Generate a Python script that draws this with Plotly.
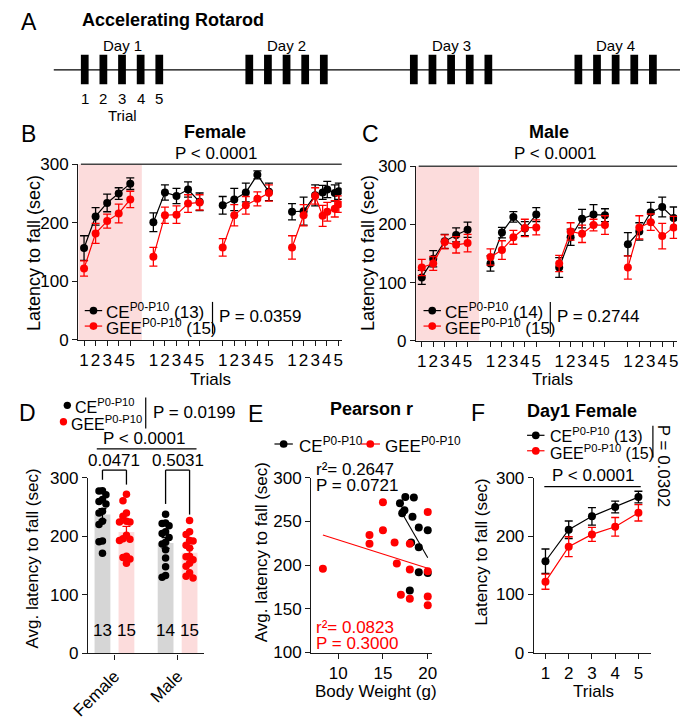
import numpy as np
import plotly.graph_objects as go

W, H = 685, 720
FONT = "Liberation Sans, Arial, Helvetica, sans-serif"
BLACK = "#000000"
RED = "#ff0000"
PINK = "#fcdcdc"
GRAY = "#d6d6d6"
AX = "#1a1a1a"

# ---------------- data ----------------
# Panel A schedule
days = [1, 2, 3, 4]
trials = [1, 2, 3, 4, 5]
trial_labels = ["1", "2", "3", "4", "5"]

# Panel B: female, latency per day/trial (day 4 shows doubled points near trials 4 and 5)
fem_trials = [[1, 2, 3, 4, 5], [1, 2, 3, 4, 5], [1, 2, 3, 4, 5],
              [1, 2, 3, 3.65, 4.05, 4.7, 5.05]]
fem_ce = [[157, 211, 234, 250, 267], [201, 252, 246, 257, 236],
          [230, 240, 252, 282, 253], [219, 220, 247, 252, 257, 251, 254]]
fem_ce_sem = [[21, 15, 15, 10, 10], [16, 13, 13, 13, 15],
              [15, 19, 16, 7, 15], [14, 24, 18, 12, 14, 14, 14]]
fem_gee = [[122, 182, 203, 216, 240], [142, 213, 214, 233, 235],
           [158, 213, 230, 241, 251], [158, 213, 246, 212, 219, 224, 232]]
fem_gee_sem = [[13, 17, 12, 16, 14], [16, 14, 15, 15, 13],
               [15, 18, 15, 12, 14], [20, 18, 14, 18, 16, 14, 14]]

# Panel C: male
male_trials = [[1, 2, 3, 4, 5], [1, 2, 3, 4, 5], [1, 2, 3, 4, 5], [1, 2, 3, 4, 5]]
male_ce = [[109, 141, 171, 182, 191], [133, 186, 213, 193, 217],
           [126, 178, 210, 217, 216], [166, 188, 221, 230, 211]]
male_ce_sem = [[12, 14, 12, 12, 13], [13, 9, 9, 12, 12],
               [17, 14, 16, 17, 11], [20, 15, 17, 17, 19]]
male_gee = [[126, 133, 170, 165, 168], [144, 156, 178, 194, 195],
            [133, 188, 184, 199, 199], [126, 195, 204, 180, 195]]
male_gee_sem = [[14, 12, 12, 14, 15], [14, 16, 12, 15, 13],
                [14, 15, 15, 10, 16], [20, 20, 14, 22, 19]]

# Panel E (female): body weight vs average latency
ce_weight = [16.9, 17.5, 18.45, 17.4, 17.15, 18.3, 19.0, 20.0, 18.15, 19.0, 19.0, 20.0, 18.0]
ce_avg = [271, 278, 277.5, 263, 259.5, 255.5, 243, 240, 226, 220.5, 192, 191, 171]
gee_weight = [8.3, 13.5, 13.5, 15.0, 15.0, 16.3, 16.55, 17.0, 18.0, 18.0, 18.0, 20.0, 20.0, 20.0, 20.0]
gee_avg = [196, 234.5, 224.5, 272, 240, 226, 202, 166, 224.5, 195, 161.5, 261, 193, 164, 154]

# Panel D: average latency per animal
d_groups = ["Female", "Male"]
male_ce_avg = [238, 223, 222, 218, 208, 205, 198, 190, 187, 177, 163, 148, 133, 130]
male_gee_avg = [227, 208, 203, 193, 192, 185, 180, 166, 165, 160, 154, 149, 138, 132, 129]

# ---------------- helpers ----------------
def xpx(p):
    return p / W


def ypx(p):
    return 1 - p / H


annotations = []
shapes = []


def text(s, x, y, size=17, color=BLACK, xa="center", ya="middle", angle=0, bold=False):
    if bold:
        s = "<b>" + s + "</b>"
    annotations.append(dict(text=s, x=xpx(x), y=ypx(y), xref="paper", yref="paper",
                            showarrow=False, xanchor=xa, yanchor=ya, textangle=angle,
                            font=dict(family=FONT, size=size, color=color)))


def seg(x0, y0, x1, y1, color=BLACK, w=1.3):
    shapes.append(dict(type="line", xref="paper", yref="paper", x0=xpx(x0), x1=xpx(x1),
                       y0=ypx(y0), y1=ypx(y1), line=dict(color=color, width=w)))


def dot(cx, cy, r, color):
    shapes.append(dict(type="circle", xref="paper", yref="paper", x0=xpx(cx - r), x1=xpx(cx + r),
                       y0=ypx(cy + r), y1=ypx(cy - r), fillcolor=color, line=dict(color=color, width=0)))


def icon(x0, x1, y, color):
    seg(x0, y, x1, y, color, 1.2)
    dot((x0 + x1) / 2, y, 4, color)


def axis_style(**kw):
    base = dict(showline=True, linecolor=AX, linewidth=1.3, ticks="outside", ticklen=5,
                tickwidth=1.3, tickcolor=AX, showgrid=False, zeroline=False,
                tickfont=dict(family=FONT, size=17, color=BLACK), fixedrange=True)
    base.update(kw)
    return base


def day_series(pos, vals, errs):
    xs, ys, es = [], [], []
    for d in range(len(days)):
        for t, v, e in zip(pos[d], vals[d], errs[d]):
            xs.append(d * 6 + t)
            ys.append(v)
            es.append(e)
        xs.append(None)
        ys.append(None)
        es.append(None)
    return xs, ys, es


def swarm(vals, step, thresh):
    order = np.argsort(vals)[::-1]
    placed = []
    offs = [0.0] * len(vals)
    cands = [0, -step, step, -2 * step, 2 * step]
    for i in order:
        v = vals[i]
        best, bestd = 0.0, -1
        for c in cands:
            dmin = min([((v - pv) / thresh) ** 2 + ((c - po) / step) ** 2 for pv, po in placed] + [9])
            if dmin >= 1:
                best = c
                break
            if dmin > bestd:
                best, bestd = c, dmin
        offs[i] = best
        placed.append((v, best))
    return offs


fig = go.Figure()

# ---------------- Panel A ----------------
A_X0, A_DAY, A_TRIAL = 70, 170, 19.25
a_x = [A_X0 + (d - 1) * A_DAY + (t - 1) * A_TRIAL for d in days for t in trials]
fig.add_trace(go.Bar(x=a_x, y=[1] * len(a_x), base=0, width=8, marker=dict(color=BLACK, line_width=0),
                     xaxis="x6", yaxis="y6", hoverinfo="skip"))
seg(38, 63, 685, 63, BLACK, 1.2)
text("A", 12, 13, size=23)
text("Accelerating Rotarod", 65, 11, size=18, xa="left", bold=True)
for d in days:
    text("Day %d" % d, A_X0 + (d - 1) * A_DAY + 2 * A_TRIAL, 38, size=15)
for t, lab in zip(trials, trial_labels):
    text(lab, A_X0 + (t - 1) * A_TRIAL, 93, size=15)
text("Trial", A_X0 + 2 * A_TRIAL, 110, size=15)

# ---------------- Panels B & C ----------------
tickvals_bc = [d * 6 + t for d in range(4) for t in trials]
ticktext_bc = trial_labels * 4


def line_panel(xa, ya, pos, ce, ce_sem, gee, gee_sem):
    for vals, errs, col in [(ce, ce_sem, BLACK), (gee, gee_sem, RED)]:
        xs, ys, es = day_series(pos, vals, errs)
        fig.add_trace(go.Scatter(x=xs, y=ys, mode="lines+markers", xaxis=xa, yaxis=ya,
                                 line=dict(color=col, width=1.2), marker=dict(color=col, size=8),
                                 error_y=dict(type="data", array=es, color=col, thickness=1.3, width=4),
                                 connectgaps=False, hoverinfo="skip"))
    shapes.append(dict(type="rect", xref=xa, yref=ya, x0=0.5, x1=6, y0=0, y1=300, layer="below",
                       fillcolor=PINK, line=dict(width=0)))
    shapes.append(dict(type="line", xref=xa + " domain", yref=ya + " domain", x0=0.01, x1=1, y0=1, y1=1,
                       line=dict(color="#444444", width=1.5)))


line_panel("x", "y", fem_trials, fem_ce, fem_ce_sem, fem_gee, fem_gee_sem)
line_panel("x2", "y2", male_trials, male_ce, male_ce_sem, male_gee, male_gee_sem)

text("B", 12, 129, size=23)
text("Female", 205, 127, size=18, bold=True)
text("P < 0.0001", 206, 149, size=17)
text("Latency to fall (sec)", 17, 252, size=18, angle=-90)
text("Trials", 200, 383, size=17)
icon(70, 88, 312, BLACK)
icon(70, 88, 328, RED)
text("CE<sup>P0-P10</sup> (13)", 90, 312, size=17, xa="left")
text("GEE<sup>P0-P10</sup> (15)", 90, 329, size=17, xa="left")
seg(202, 303, 202, 336, BLACK, 1.2)
text("P = 0.0359", 207, 318, size=17, xa="left")

text("C", 365, 129, size=23)
text("Male", 550, 127, size=18, bold=True)
text("P < 0.0001", 556, 149, size=17)
text("Latency to fall (sec)", 362, 252, size=18, angle=-90)
text("Trials", 553, 383, size=17)
icon(420, 438, 312, BLACK)
icon(420, 438, 328, RED)
text("CE<sup>P0-P10</sup> (14)", 440, 312, size=17, xa="left")
text("GEE<sup>P0-P10</sup> (15)", 440, 329, size=17, xa="left")
seg(551, 303, 551, 336, BLACK, 1.2)
text("P = 0.2744", 556, 318, size=17, xa="left")

# ---------------- Panel D ----------------
D_OFF, D_W = 0.19, 0.25
groups_vals = {"CE": [ce_avg, male_ce_avg], "GEE": [gee_avg, male_gee_avg]}
for key, col, fill, off in [("CE", BLACK, GRAY, -D_OFF), ("GEE", RED, PINK, D_OFF)]:
    vals_list = groups_vals[key]
    xs = [g + 1 + off for g in range(len(d_groups))]
    means = [float(np.mean(v)) for v in vals_list]
    sems = [float(np.std(v, ddof=1) / np.sqrt(len(v))) for v in vals_list]
    fig.add_trace(go.Bar(x=xs, y=means, width=D_W, marker=dict(color=fill, line_width=0),
                         error_y=dict(type="data", array=sems, color=col, thickness=1.3, width=4),
                         xaxis="x3", yaxis="y3", hoverinfo="skip"))
    px_, py_ = [], []
    for g, v in enumerate(vals_list):
        offs = swarm(v, 0.055, 12)
        px_ += [g + 1 + off + o for o in offs]
        py_ += list(v)
    fig.add_trace(go.Scatter(x=px_, y=py_, mode="markers", marker=dict(color=col, size=7.5),
                             xaxis="x3", yaxis="y3", hoverinfo="skip"))
    for g, v in enumerate(vals_list):
        annotations.append(dict(text=str(len(v)), x=g + 1 + off, y=ypx(655), xref="x3", yref="paper",
                                showarrow=False, font=dict(family=FONT, size=17, color=BLACK)))

D_DOM = (73.3, 193.3)
D_RNG = (0.58, 2.42)


def dx(v):
    return D_DOM[0] + (v - D_RNG[0]) / (D_RNG[1] - D_RNG[0]) * (D_DOM[1] - D_DOM[0])


text("D", 11, 418, size=23)
dot(52, 410, 3.8, BLACK)
dot(48, 427, 3.8, RED)
text("CE<sup>P0-P10</sup>", 58, 411, size=16, xa="left")
text("GEE<sup>P0-P10</sup>", 54, 428, size=16, xa="left")
seg(133, 402, 133, 434, BLACK, 1.2)
text("P = 0.0199", 138, 417, size=17, xa="left")
text("P < 0.0001", 131, 444, size=17)
seg(dx(0.72), 455, dx(2.3), 455, BLACK, 1.3)
text("0.0471", dx(1), 467, size=17)
text("0.5031", dx(2), 467, size=17)
# brackets
seg(dx(1 - D_OFF), 477, dx(1 + D_OFF), 477)
seg(dx(1 - D_OFF), 477, dx(1 - D_OFF), 487)
seg(dx(1 + D_OFF), 477, dx(1 + D_OFF), 492)
seg(dx(2 - D_OFF), 477, dx(2 + D_OFF), 477)
seg(dx(2 - D_OFF), 477, dx(2 - D_OFF), 512)
seg(dx(2 + D_OFF), 477, dx(2 + D_OFF), 523)
text("Avg. latency to fall (sec)", 16, 568, size=17, angle=-90)

# ---------------- Panel E ----------------
for w_, v_, col in [(ce_weight, ce_avg, BLACK), (gee_weight, gee_avg, RED)]:
    fig.add_trace(go.Scatter(x=w_, y=v_, mode="markers", marker=dict(color=col, size=8),
                             xaxis="x4", yaxis="y4", hoverinfo="skip"))
    k, b = np.polyfit(w_, v_, 1)
    lx = [min(w_), max(w_)]
    fig.add_trace(go.Scatter(x=lx, y=[k * x + b for x in lx], mode="lines", line=dict(color=col, width=1.1),
                             xaxis="x4", yaxis="y4", hoverinfo="skip"))
text("E", 246, 419, size=23)
text("Pearson r", 366, 414, size=18, bold=True)
icon(266, 285, 450, BLACK)
text("CE<sup>P0-P10</sup>", 289, 451, size=17, xa="left")
icon(355, 375, 450, RED)
text("GEE<sup>P0-P10</sup>", 378, 451, size=17, xa="left")
text("r²= 0.2647", 307, 476, size=17, xa="left")
text("P = 0.0721", 307, 493, size=17, xa="left")
text("r²= 0.0823", 307, 640, size=17, xa="left", color=RED)
text("P = 0.3000", 307, 656, size=17, xa="left", color=RED)
text("Avg. latency to fall (sec)", 252, 562, size=17, angle=-90)
text("Body Weight (g)", 371, 706, size=17)

# ---------------- Panel F ----------------
for vals, errs, col in [(fem_ce[0], fem_ce_sem[0], BLACK), (fem_gee[0], fem_gee_sem[0], RED)]:
    fig.add_trace(go.Scatter(x=fem_trials[0], y=vals, mode="lines+markers", xaxis="x5", yaxis="y5",
                             line=dict(color=col, width=1.2), marker=dict(color=col, size=8),
                             error_y=dict(type="data", array=errs, color=col, thickness=1.3, width=4),
                             hoverinfo="skip"))
shapes.append(dict(type="line", xref="x5", yref="y5", x0=0.95, x1=5.1, y0=285, y1=285,
                   line=dict(color=BLACK, width=1.3)))
text("F", 476, 418, size=23)
text("Day1 Female", 584, 416, size=18, bold=True)
icon(527, 545, 441, BLACK)
icon(527, 545, 457, RED)
text("CE<sup>P0-P10</sup> (13)", 549, 441, size=16, xa="left")
text("GEE<sup>P0-P10</sup> (15)", 549, 458, size=16, xa="left")
seg(657, 431, 657, 464, BLACK, 1.2)
text("P = 0.0302", 668, 472, size=17, angle=90)
text("P < 0.0001", 595, 483, size=17)
text("Latency to fall (sec)", 480, 562, size=17, angle=-90)
text("Trials", 596, 706, size=17)

# ---------------- layout ----------------
fig.update_layout(
    width=W, height=H, margin=dict(l=0, r=0, t=0, b=0),
    paper_bgcolor="white", plot_bgcolor="white", showlegend=False,
    font=dict(family=FONT, color=BLACK), barmode="overlay",
    xaxis=axis_style(domain=[xpx(63.3), xpx(335.5)], range=[0.5, 23.3], anchor="y",
                     tickmode="array", tickvals=tickvals_bc, ticktext=ticktext_bc, tickangle=0),
    yaxis=axis_style(domain=[ypx(342.3), ypx(160.7)], range=[0, 300], anchor="x",
                     tickmode="array", tickvals=[0, 100, 200, 300]),
    xaxis2=axis_style(domain=[xpx(412.3), xpx(682)], range=[0.5, 23.3], anchor="y2",
                      tickmode="array", tickvals=tickvals_bc, ticktext=ticktext_bc, tickangle=0),
    yaxis2=axis_style(domain=[ypx(343.3), ypx(162.7)], range=[0, 300], anchor="x2",
                      tickmode="array", tickvals=[0, 100, 200, 300]),
    xaxis3=axis_style(domain=[xpx(D_DOM[0]), xpx(D_DOM[1])], range=list(D_RNG), anchor="y3",
                      tickmode="array", tickvals=[1, 2], ticktext=d_groups, tickangle=-45),
    yaxis3=axis_style(domain=[ypx(666.7), ypx(485)], range=[0, 300], anchor="x3",
                      tickmode="array", tickvals=[0, 100, 200, 300]),
    xaxis4=axis_style(domain=[xpx(304), xpx(429)], range=[7, 20.5], anchor="y4",
                      tickmode="array", tickvals=[10, 15, 20], tickangle=0),
    yaxis4=axis_style(domain=[ypx(665.7), ypx(485)], range=[100, 300], anchor="x4",
                      tickmode="array", tickvals=[100, 150, 200, 250, 300]),
    xaxis5=axis_style(domain=[xpx(534), xpx(655)], range=[0.5, 5.54], anchor="y5",
                      tickmode="array", tickvals=trials, ticktext=trial_labels, tickangle=0),
    yaxis5=axis_style(domain=[ypx(666), ypx(485)], range=[0, 300], anchor="x5",
                      tickmode="array", tickvals=[0, 100, 200, 300]),
    xaxis6=dict(domain=[0, 1], range=[0, W], visible=False, anchor="y6", fixedrange=True),
    yaxis6=dict(domain=[ypx(78), ypx(47)], range=[0, 1], visible=False, anchor="x6", fixedrange=True),
    annotations=annotations, shapes=shapes,
)

fig.write_html("out.html", config={"displayModeBar": False},
               post_script="document.body.style.margin='0px';document.body.style.overflow='hidden';")
